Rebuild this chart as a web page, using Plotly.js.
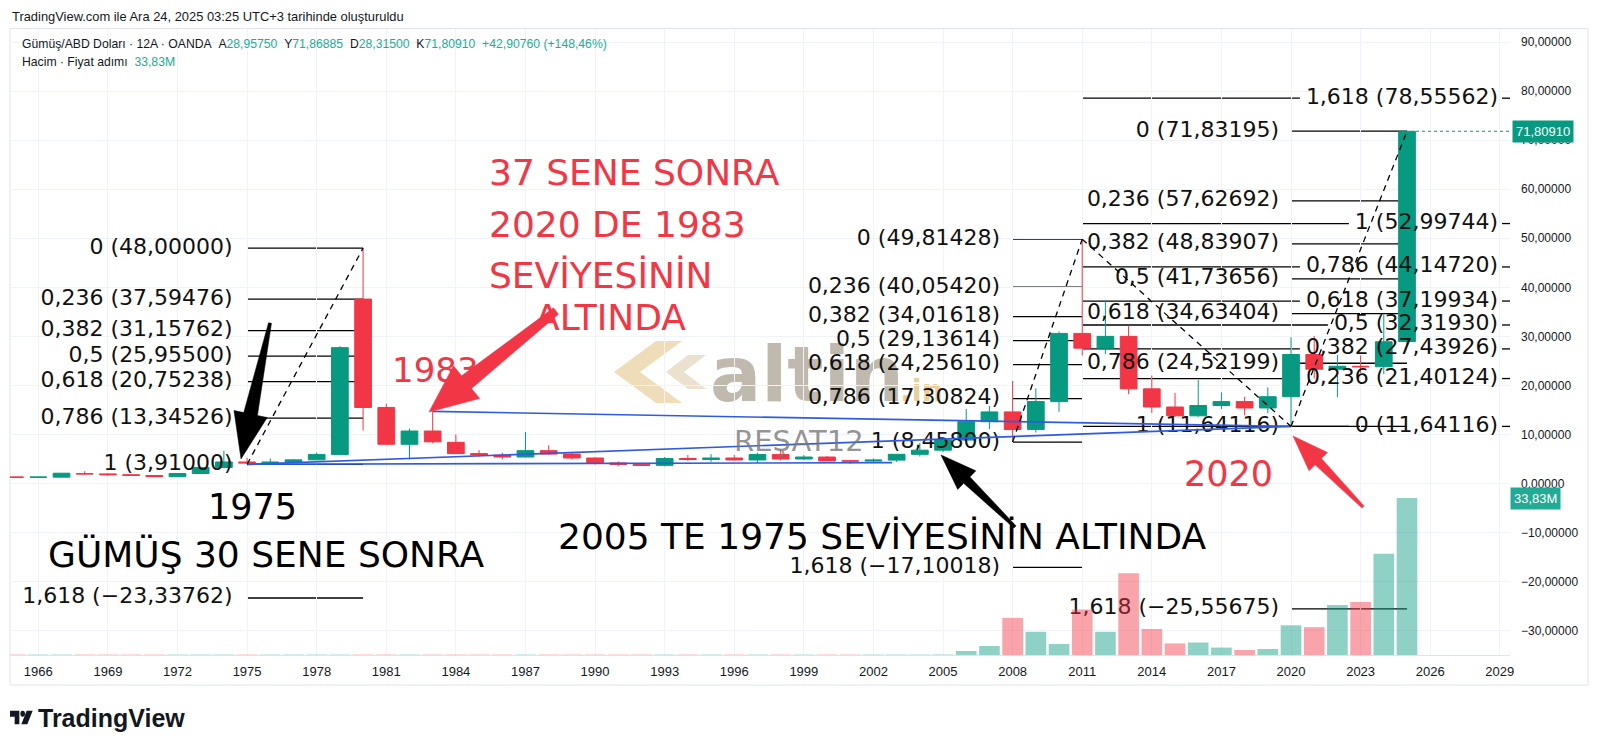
<!DOCTYPE html>
<html><head><meta charset="utf-8">
<script src="https://cdn.plot.ly/plotly-3.0.1.min.js"></script>
<style>body{margin:0;background:#fff;}#chart{width:1600px;height:750px;}</style>
</head><body><div id="chart"></div>
<script>
// ---------------- DATA ----------------
const years = [1965,1966,1967,1968,1969,1970,1971,1972,1973,1974,1975,1976,1977,1978,1979,1980,1981,1982,1983,1984,1985,1986,1987,1988,1989,1990,1991,1992,1993,1994,1995,1996,1997,1998,1999,2000,2001,2002,2003,2004,2005,2006,2007,2008,2009,2010,2011,2012,2013,2014,2015,2016,2017,2018,2019,2020,2021,2022,2023,2024,2025];
const opens  = [1.30,1.29,1.30,2.00,1.96,1.80,1.64,1.39,2.04,3.27,4.39,4.20,4.35,4.82,5.93,37.60,15.50,8.00,10.70,8.40,6.10,5.80,5.40,6.70,6.00,5.20,4.20,3.90,3.70,5.10,4.90,5.20,4.80,5.90,5.00,5.40,4.62,4.58,4.77,5.95,6.80,8.85,12.60,14.60,11.00,16.70,30.60,27.60,30.00,19.30,15.60,13.80,15.90,16.70,15.40,17.70,26.30,23.30,23.90,23.80,28.9575];
const highs  = [1.31,1.31,2.17,2.50,2.05,1.95,1.70,2.05,3.30,6.70,5.23,5.10,4.97,6.30,28.00,48.00,16.30,11.20,14.70,10.00,6.80,6.30,10.50,7.80,6.20,5.40,4.50,4.10,5.40,5.80,6.00,5.80,6.30,7.00,5.80,5.60,4.80,5.10,6.00,8.30,9.20,15.20,15.80,20.90,19.40,31.00,49.81428,37.30,32.20,22.00,18.50,21.10,18.60,17.70,19.60,29.80,30.10,26.20,26.10,34.50,71.86885];
const lows   = [1.28,1.28,1.29,1.80,1.55,1.55,1.29,1.39,1.96,3.27,3.91,3.95,4.30,4.80,5.90,10.80,7.90,4.90,8.20,6.00,5.50,4.90,5.30,5.90,4.90,3.90,3.50,3.60,3.50,4.60,4.40,4.70,4.20,4.70,4.80,4.60,4.00,4.20,4.40,5.50,6.40,8.80,11.10,8.458,10.40,14.60,26.10,26.40,18.20,14.40,13.60,13.60,15.20,13.90,14.30,11.64116,21.40,17.60,22.50,22.30,28.315];
const closes = [1.29,1.30,2.10,1.96,1.80,1.64,1.39,2.04,3.27,4.39,4.20,4.35,4.82,5.93,27.70,15.50,8.00,10.70,8.50,6.10,5.80,5.40,6.70,6.00,5.20,4.20,3.90,3.70,5.10,4.90,5.20,4.80,5.90,5.00,5.40,4.60,4.58,4.77,5.95,6.80,8.85,12.60,14.60,11.00,16.70,30.60,27.60,30.00,19.30,15.60,13.80,15.90,16.70,15.40,17.70,26.30,23.30,23.90,23.80,28.9015,71.8091];
// volume in millions
const volumes = [0.08,0.08,0.08,0.08,0.08,0.08,0.08,0.08,0.08,0.08,0.08,0.08,0.08,0.08,0.08,0.08,0.08,0.08,0.08,0.08,0.08,0.08,0.08,0.08,0.08,0.08,0.08,0.08,0.08,0.08,0.08,0.08,0.08,0.08,0.08,0.08,0.08,0.08,0.08,0.08,0.10,0.86,1.94,8.0,5.0,2.37,9.8,5.0,17.6,5.6,2.5,2.7,1.6,1.08,1.3,6.4,6.0,10.8,11.4,21.8,33.83];

const xTickVals = [1966,1969,1972,1975,1978,1981,1984,1987,1990,1993,1996,1999,2002,2005,2008,2011,2014,2017,2020,2023,2026,2029];
const xTickText = ['1966','1969','1972','1975','1978','1981','1984','1987','1990','1993','1996','1999','2002','2005','2008','2011','2014','2017','2020','2023','2026','2029'];
const yTickVals = [-30,-20,-10,0,10,20,30,40,50,60,70,80,90];
const yTickText = ['\u221230,00000','\u221220,00000','\u221210,00000','0,00000','10,00000','20,00000','30,00000','40,00000','50,00000','60,00000','70,00000','80,00000','90,00000'];

// Fibonacci drawings
const fibLevels  = [0, 0.236, 0.382, 0.5, 0.618, 0.786, 1, 1.618];
const fib1Prices = [48.0, 37.59476, 31.15762, 25.955, 20.75238, 13.34526, 3.91, -23.33762];
const fib1Span   = [1975, 1980];
const fib2Prices = [49.81428, 40.0542, 34.01618, 29.13614, 24.2561, 17.30824, 8.458, -17.10018];
const fib2Span   = [2008, 2011];
const fib3Prices = [71.83195, 57.62692, 48.83907, 41.73656, 34.63404, 24.52199, 11.64116, -25.55675];
const fib3Span   = [2020, 2025];
const fib4Prices = [11.64116, 21.40124, 27.43926, 32.3193, 37.19934, 44.1472, 52.99744, 78.55562];
const fib4Start  = 2011;

// Blue trend lines
const blue1X = [1983, 2020], blue1Y = [14.7, 11.64116];
const blue2X = [1975, 2020], blue2Y = [3.91, 11.64116];
const blue3X = [1975, 2002.8], blue3Y = [3.91, 4.25];

// ---------------- GEOMETRY ----------------
const L = 10, R = 1510, T = 29, B = 655;
const W = R - L, H = B - T;
const X0 = 1964.78, X1 = 2029.44;
const Y0 = -34.96, Y1 = 92.66;
const V1 = 134.9;
const pxToYr = p => X0 + (p - L) / W * (X1 - X0);
const yrToPx = y => L + (y - X0) / (X1 - X0) * W;
const pX = p => (p - L) / W;
const pY = p => (B - p) / H;

const fmt = (v, d = 5) => (v < 0 ? '\u2212' : '') + Math.abs(v).toFixed(d).replace('.', ',');
const lvTxt = lv => String(lv).replace('.', ',');
const fibLabel = (lv, p) => lvTxt(lv) + ' (' + fmt(p) + ')';

const cv = document.createElement('canvas').getContext('2d');
cv.font = '22px "DejaVu Sans"';
const tw = s => cv.measureText(s).width;

const RED = '#f23645', GREEN = '#089981', TEAL = '#22ab94';

// ---------------- SHAPES ----------------
const shapes = [];
function fibLines(prices, span) {
  prices.forEach(p => shapes.push({type:'line', xref:'x', yref:'y', x0:span[0], x1:span[1], y0:p, y1:p,
    line:{color:'#000', width:1.3}, layer:'below'}));
}
fibLines(fib1Prices, fib1Span);
fibLines(fib2Prices, fib2Span);
fibLines(fib3Prices, fib3Span);
const fib4Right = 1498;
fib4Prices.forEach((p, i) => {
  const w = tw(fibLabel(fibLevels[i], p));
  shapes.push({type:'line', xref:'x', yref:'y', x0:fib4Start, x1:pxToYr(fib4Right - w - 6), y0:p, y1:p,
    line:{color:'#000', width:1.3}, layer:'below'});
  shapes.push({type:'line', xref:'x', yref:'y', x0:pxToYr(fib4Right + 4), x1:X1, y0:p, y1:p,
    line:{color:'#000', width:1.3}, layer:'below'});
});
// dashed trend segments of the fib tools
const dashed = [
  [fib1Span[0], fib1Prices[6], fib1Span[1], fib1Prices[0]],
  [fib2Span[0], fib2Prices[6], fib2Span[1], fib2Prices[0]],
  [fib2Span[1], fib2Prices[0], fib3Span[0], fib3Prices[6]],
  [fib3Span[0], fib3Prices[6], fib3Span[1], fib3Prices[0]]
];
dashed.forEach(d => shapes.push({type:'line', xref:'x', yref:'y', x0:d[0], y0:d[1], x1:d[2], y1:d[3],
  line:{color:'#000', width:1.3, dash:'6px,5px'}, layer:'above'}));

// last price dotted line
const last = years.length - 1;
shapes.push({type:'line', xref:'paper', yref:'y', x0:pX(yrToPx(years[last]) + 9), x1:1, y0:closes[last], y1:closes[last],
  line:{color:GREEN, width:1, dash:'dot'}, layer:'above'});

// frame
shapes.push({type:'rect', xref:'paper', yref:'paper', x0:pX(10), x1:pX(1588), y0:pY(685), y1:pY(28.6),
  line:{color:'#e0e3eb', width:1}, layer:'below'});

// arrows (pixel geometry -> paper path)
function arrow(tail, tip, w0, w1, hw, hl, color) {
  const dx = tip[0] - tail[0], dy = tip[1] - tail[1];
  const len = Math.hypot(dx, dy), ux = dx / len, uy = dy / len, nx = -uy, ny = ux;
  const nk = [tip[0] - ux * hl, tip[1] - uy * hl];
  const pts = [
    [tail[0] + nx * w0 / 2, tail[1] + ny * w0 / 2],
    [nk[0] + nx * w1 / 2, nk[1] + ny * w1 / 2],
    [nk[0] + nx * hw / 2, nk[1] + ny * hw / 2],
    tip,
    [nk[0] - nx * hw / 2, nk[1] - ny * hw / 2],
    [nk[0] - nx * w1 / 2, nk[1] - ny * w1 / 2],
    [tail[0] - nx * w0 / 2, tail[1] - ny * w0 / 2]
  ];
  const path = pts.map((q, i) => (i ? 'L' : 'M') + pX(q[0]).toFixed(5) + ',' + pY(q[1]).toFixed(5)).join(' ') + ' Z';
  shapes.push({type:'path', xref:'paper', yref:'paper', path, fillcolor:color, line:{color:color, width:0.5}, layer:'above'});
}
arrow([270, 323], [241, 459], 3, 14, 34, 46, '#000');
arrow([556, 311], [429, 412], 8, 16, 42, 48, RED);
arrow([1015, 527], [941, 455], 3, 9, 26, 36, '#000');
arrow([1363, 507], [1293, 436], 3, 9, 26, 36, RED);

// ---------------- TRACES ----------------
const traces = [];
function fibText(prices, rightPx) {
  traces.push({type:'scatter', mode:'text', x:prices.map(() => pxToYr(rightPx)), y:prices,
    text:prices.map((p, i) => fibLabel(fibLevels[i], p)), textposition:'middle left',
    textfont:{family:'DejaVu Sans', size:22, color:'#111'}, hoverinfo:'skip', cliponaxis:false, showlegend:false});
}
fibText(fib1Prices, 232.7);
fibText(fib2Prices, 1000);
fibText(fib3Prices, 1279);
fibText(fib4Prices, fib4Right);

traces.push({type:'candlestick', x:years, open:opens, high:highs, low:lows, close:closes,
  increasing:{line:{color:GREEN, width:1}, fillcolor:GREEN},
  decreasing:{line:{color:RED, width:1}, fillcolor:RED},
  whiskerwidth:0, hoverinfo:'skip', showlegend:false});

[[blue1X, blue1Y], [blue2X, blue2Y], [blue3X, blue3Y]].forEach(b => traces.push({type:'scatter', mode:'lines', x:b[0], y:b[1],
  line:{color:'#2f5be0', width:1.6}, hoverinfo:'skip', showlegend:false}));

traces.push({type:'bar', x:years, y:volumes, yaxis:'y2', width:0.89,
  marker:{color:years.map((_, i) => closes[i] >= opens[i] ? 'rgba(8,153,129,0.45)' : 'rgba(242,54,69,0.45)'), line:{width:0}},
  hoverinfo:'skip', showlegend:false});

// ---------------- ANNOTATIONS ----------------
const chg = closes[last] - closes[last - 1];
const pct = chg / closes[last - 1] * 100;
const tl = s => '<span style="color:' + TEAL + '">' + s + '</span>';
const sp = '\u00a0\u00a0';
const hdr2 = 'Gümüş/ABD Doları · 12A · OANDA' + sp + 'A' + tl(fmt(opens[last])) + sp + 'Y' + tl(fmt(highs[last])) + sp +
  'D' + tl(fmt(lows[last])) + sp + 'K' + tl(fmt(closes[last])) + sp + tl('+' + fmt(chg) + ' (+' + pct.toFixed(2).replace('.', ',') + '%)');
const hdr3 = 'Hacim · Fiyat adımı' + sp + tl(fmt(volumes[last], 2) + 'M');

const ann = [];
const txt = (text, x, y, size, color, xanchor, family) => ann.push({xref:'paper', yref:'paper', x:pX(x), y:pY(y), text,
  showarrow:false, xanchor:xanchor || 'center', yanchor:'middle', font:{family:family || 'DejaVu Sans', size, color}});

txt('TradingView.com ile Ara 24, 2025 03:25 UTC+3 tarihinde oluşturuldu', 10, 17, 12.9, '#131722', 'left', 'Liberation Sans');
txt(hdr2, 20, 44, 12.2, '#131722', 'left', 'Liberation Sans');
txt(hdr3, 20, 62, 12.2, '#131722', 'left', 'Liberation Sans');

txt('37 SENE SONRA', 486.7, 172, 36, RED, 'left');
txt('2020 DE 1983', 486.7, 225, 36, RED, 'left');
txt('SEVİYESİNİN', 486.7, 275, 36, RED, 'left');
txt('ALTINDA', 532.7, 317, 36, RED, 'left');
txt('1983', 436, 370, 34, RED);
txt('2020', 1228.6, 474.5, 35, RED);
txt('1975', 252.6, 507, 35, '#000');
txt('GÜMÜŞ 30 SENE SONRA', 45.9, 554, 36, '#000', 'left');
txt('2005 TE 1975 SEVİYESİNİN ALTINDA', 556, 536, 36, '#000', 'left');
txt('REŞAT12', 799, 441, 29, 'rgba(120,120,120,0.8)');
txt('<b>TradingView</b>', 36, 718, 25, '#131722', 'left', 'Liberation Sans');

// price labels on the axis
ann.push({xref:'paper', yref:'y', x:pX(1512), y:closes[last], xanchor:'left', yanchor:'middle', showarrow:false,
  text:fmt(closes[last]), bgcolor:GREEN, borderpad:3, font:{family:'Liberation Sans', size:13, color:'#fff'}});
ann.push({xref:'paper', yref:'y2', x:pX(1510), y:volumes[last], xanchor:'left', yanchor:'middle', showarrow:false,
  text:fmt(volumes[last], 2) + 'M', bgcolor:TEAL, borderpad:3, font:{family:'Liberation Sans', size:13, color:'#fff'}});

// ---------------- IMAGES (watermark + logo) ----------------
const wmSvg = '<svg xmlns="http://www.w3.org/2000/svg" width="350" height="66" viewBox="0 0 350 66">' +
  '<polygon points="46,2 4,33 46,64 72,64 30,33 72,2" fill="#e2bf7e" fill-opacity="0.55"/>' +
  '<polygon points="78,16 56,33 78,50 96,50 74,33 96,16" fill="#d9c3a0" fill-opacity="0.5"/>' +
  '<text x="100" y="62" font-family="DejaVu Sans" font-weight="bold" font-size="76" fill="#968a78" fill-opacity="0.6">altin</text>' +
  '<text x="290" y="62" font-family="DejaVu Sans" font-weight="bold" font-size="30" fill="#e2bf7e" fill-opacity="0.75">.in</text></svg>';
const tvSvg = '<svg xmlns="http://www.w3.org/2000/svg" width="36" height="20" viewBox="0 0 36 20">' +
  '<path d="M0 2 H14 V18 H7 V9 H0 Z" fill="#131722"/><circle cx="19" cy="5.5" r="3.5" fill="#131722"/>' +
  '<path d="M25 2 H34 L26 18 H17 Z" fill="#131722"/></svg>';
const svgUri = s => 'data:image/svg+xml;charset=utf-8,' + encodeURIComponent(s);
const images = [
  {source:svgUri(wmSvg), xref:'paper', yref:'paper', x:pX(610), y:pY(339), sizex:350 / W, sizey:66 / H,
   xanchor:'left', yanchor:'top', sizing:'stretch', layer:'below'},
  {source:svgUri(tvSvg), xref:'paper', yref:'paper', x:pX(10), y:pY(709), sizex:24 / W, sizey:17 / H,
   xanchor:'left', yanchor:'top', sizing:'stretch', layer:'above'}
];

// ---------------- LAYOUT ----------------
const layout = {
  width:1600, height:750, margin:{l:L, r:1600 - R, t:T, b:750 - B},
  paper_bgcolor:'#fff', plot_bgcolor:'#fff', showlegend:false, hovermode:false, dragmode:false,
  xaxis:{range:[X0, X1], tickvals:xTickVals, ticktext:xTickText, showgrid:true, gridcolor:'#f0f3fa',
    zeroline:false, showline:true, linecolor:'#e0e3eb', ticks:'', ticklabelstandoff:4,
    tickfont:{family:'Liberation Sans', size:13, color:'#131722'}, rangeslider:{visible:false}, fixedrange:true},
  yaxis:{range:[Y0, Y1], side:'right', tickvals:yTickVals, ticktext:yTickText, showgrid:true, gridcolor:'#f0f3fa',
    zeroline:false, showline:false, ticks:'', ticklabelstandoff:10,
    tickfont:{family:'Liberation Sans', size:12, color:'#131722'}, fixedrange:true},
  yaxis2:{overlaying:'y', range:[0, V1], visible:false, fixedrange:true},
  boxgap:0.28, boxgroupgap:0,
  shapes, annotations:ann, images
};

Plotly.newPlot('chart', traces, layout, {staticPlot:true, displayModeBar:false});
</script>
</body></html>
